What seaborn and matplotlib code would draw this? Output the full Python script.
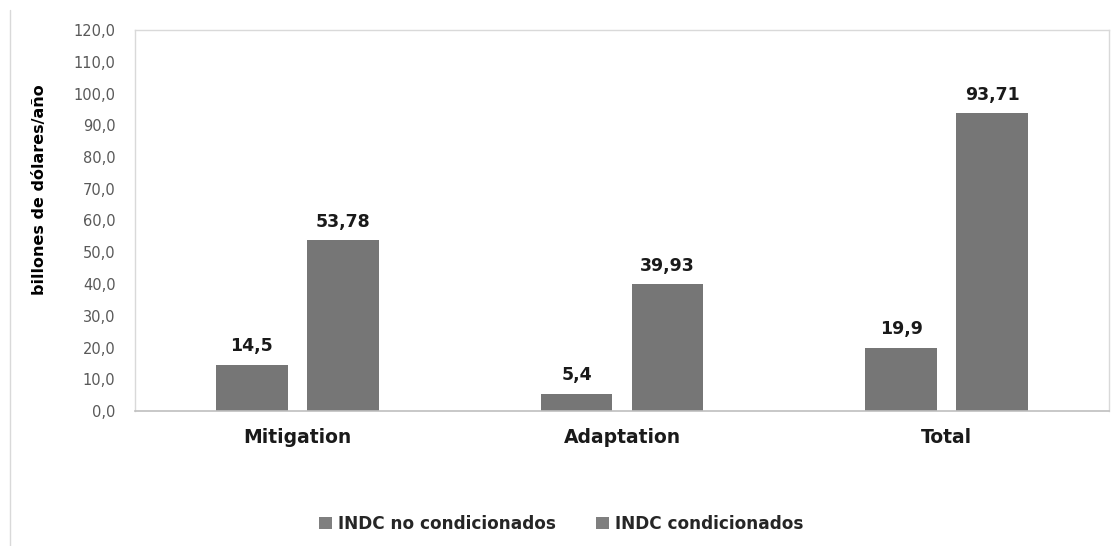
import matplotlib
matplotlib.use("Agg")
import matplotlib.pyplot as plt
from matplotlib.patches import Patch
from matplotlib.lines import Line2D
import seaborn as sns
import pandas as pd

categories = ["Mitigation", "Adaptation", "Total"]
series_names = ["INDC no condicionados", "INDC condicionados"]
no_condicionados = [14.5, 5.4, 19.9]
condicionados = [53.78, 39.93, 93.71]
y_ticks = [0, 10, 20, 30, 40, 50, 60, 70, 80, 90, 100, 110, 120]

bar_color = "#767676"
legend_color = "#7f7f7f"

df = pd.DataFrame({
    "categoria": categories * 2,
    "serie": [series_names[0]] * 3 + [series_names[1]] * 3,
    "valor": no_condicionados + condicionados,
})

sns.set_theme(style="white")
plt.rcParams["font.family"] = ["DejaVu Sans"]

fig = plt.figure(figsize=(11.19, 5.46), dpi=100)
ax = fig.add_axes([135 / 1119, 1 - 411 / 546, (1109 - 135) / 1119, (411 - 30) / 546])

sns.barplot(data=df, x="categoria", y="valor", hue="serie", order=categories,
            hue_order=series_names, palette=[bar_color, bar_color],
            width=0.56, gap=0.214, ax=ax, legend=False, edgecolor="none")

ax.set_xlim(-0.5, 2.5)
ax.set_ylim(0, 120)
ax.set_yticks(y_ticks)
ax.set_yticklabels([f"{v:.1f}".replace(".", ",") for v in y_ticks],
                   fontsize=10.5, color="#595959")
ax.tick_params(axis="y", length=0, pad=14)
ax.tick_params(axis="x", length=0, pad=12)
ax.set_xticks(range(len(categories)))
ax.set_xticklabels(categories, fontsize=13.5, fontweight="bold", color="#1a1a1a")
ax.set_xlabel("")
ax.set_ylabel("billones de dólares/año", fontsize=11.5, fontweight="bold",
              color="black")
ax.yaxis.set_label_coords((47 - 135) / 974, (411 - 190) / 381)

for side in ["top", "right", "left"]:
    ax.spines[side].set_color("#d9d9d9")
    ax.spines[side].set_linewidth(1.0)
ax.spines["bottom"].set_color("#bfbfbf")
ax.spines["bottom"].set_linewidth(1.2)

for container in ax.containers:
    labels = [f"{v:g}".replace(".", ",") for v in container.datavalues]
    ax.bar_label(container, labels=labels, padding=7, fontsize=12.5,
                 fontweight="bold", color="#1a1a1a")

# outer chart frame edge on the left
fig.add_artist(Line2D([10 / 1119, 10 / 1119], [0, 1 - 10 / 546],
                      transform=fig.transFigure, color="#d9d9d9", lw=1))

handles = [Patch(facecolor=legend_color, edgecolor="none", label=s) for s in series_names]
fig.legend(handles=handles, loc="center", bbox_to_anchor=(561 / 1119, 1 - 524 / 546),
           ncol=2, frameon=False, prop={"size": 12.2, "weight": "bold"},
           handlelength=0.75, handleheight=0.75, handletextpad=0.35, columnspacing=2.4)

fig.savefig("out.png", dpi=100)
